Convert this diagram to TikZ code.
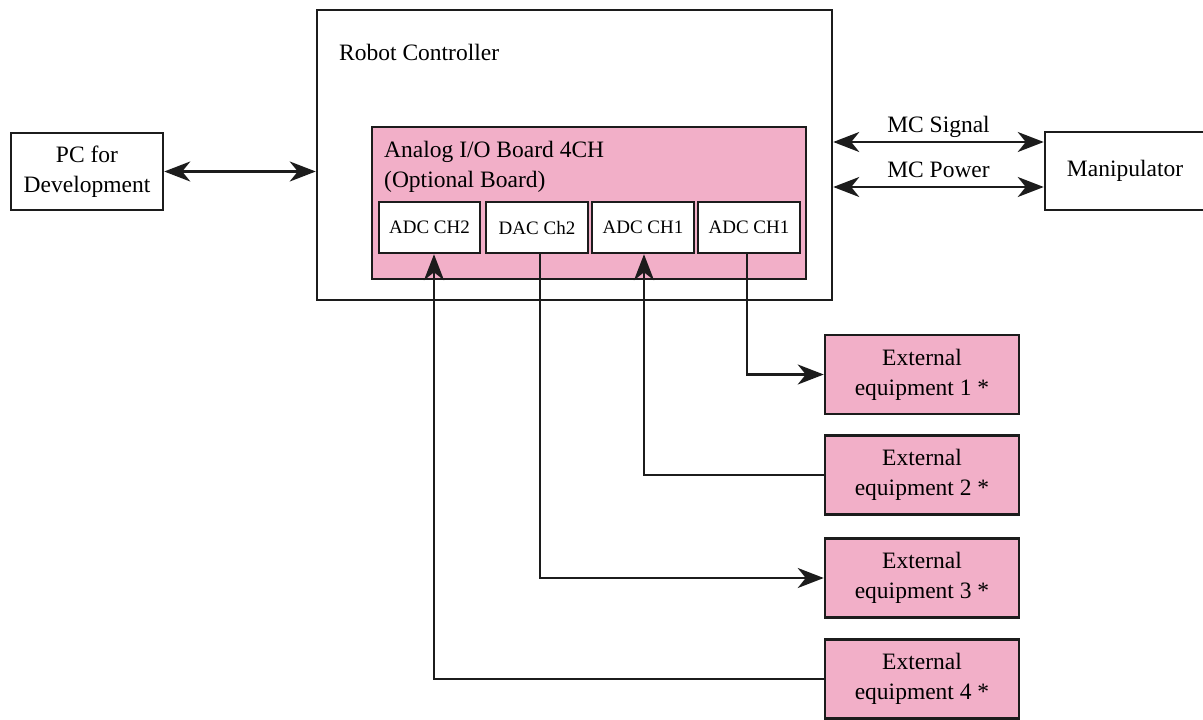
\documentclass[tikz,border=0pt]{standalone}
\usepackage{fontspec}
\setmainfont{Liberation Serif}
\usetikzlibrary{arrows.meta,calc}
\definecolor{boardpink}{RGB}{242,175,200}
\definecolor{edgec}{RGB}{28,28,28}
\begin{document}
\begin{tikzpicture}[x=1pt,y=-1pt,
  box/.style={draw=edgec,line width=2.5pt,fill=white,inner sep=0pt,
    font=\fontsize{23.5}{30}\selectfont,align=center},
  pinkbox/.style={box,fill=boardpink},
  chbox/.style={box,font=\fontsize{19}{22}\selectfont},
  tip/.tip={Stealth[length=26pt,width=20pt,inset=8pt]},
  arr/.style={draw=edgec,line width=2.4pt,-tip},
  biarr/.style={draw=edgec,line width=2.4pt,tip-tip},
  lbl/.style={font=\fontsize{23.5}{30}\selectfont,inner sep=0pt}]
\useasboundingbox (0,0) rectangle (1203,720);

% Robot controller
\node[box,minimum width=515pt,minimum height=290pt] (rc) at (574.5,155) {};
\node[lbl,anchor=west] (rct) at (339,52) {Robot Controller};

% Analog board
\node[pinkbox,minimum width=434pt,minimum height=152pt] (board) at (589,203) {};
\node[lbl,anchor=north west,align=left] (boardt) at (384,141) {Analog I/O Board 4CH\\(Optional Board)};

\node[chbox,minimum width=101pt,minimum height=51pt] (a1) at (429.5,227.5) {ADC CH2};
\node[chbox,minimum width=102pt,minimum height=51pt] (a2) at (537,227.5) {DAC Ch2};
\node[chbox,minimum width=102pt,minimum height=51pt] (a3) at (643,227.5) {ADC CH1};
\node[chbox,minimum width=102pt,minimum height=51pt] (a4) at (749,227.5) {ADC CH1};

% PC and manipulator
\node[box,minimum width=152pt,minimum height=77pt] (pc) at (87,171.5) {PC for\\Development};
\node[box,minimum width=160pt,minimum height=78pt] (man) at (1125,171) {Manipulator};

% External equipment
\node[pinkbox,minimum width=194pt,minimum height=79pt] (e1) at (922,374.5) {External\\equipment 1 *};
\node[pinkbox,minimum width=194pt,minimum height=79pt] (e2) at (922,475) {External\\equipment 2 *};
\node[pinkbox,minimum width=194pt,minimum height=79pt] (e3) at (922,578) {External\\equipment 3 *};
\node[pinkbox,minimum width=194pt,minimum height=79pt] (e4) at (922,679) {External\\equipment 4 *};

% Connectors
\draw[biarr] (pc.east) -- (pc.east -| rc.west);
\path (man.west) ++(0,-29) coordinate (sig);
\path (man.west) ++(0,16) coordinate (pow);
\draw[biarr] (sig -| rc.east) -- node[lbl,midway,anchor=base,yshift=10pt] {MC Signal} (sig);
\draw[biarr] (pow -| rc.east) -- node[lbl,midway,anchor=base,yshift=10pt] {MC Power} (pow);

\draw[arr] ([xshift=-2pt]a4.south) |- (e1.west);
\draw[arr] (e2.west) -| ([xshift=1pt]a3.south);
\draw[arr] ([xshift=3pt]a2.south) |- (e3.west);
\draw[arr] (e4.west) -| ([xshift=4.5pt]a1.south);
\end{tikzpicture}
\end{document}
